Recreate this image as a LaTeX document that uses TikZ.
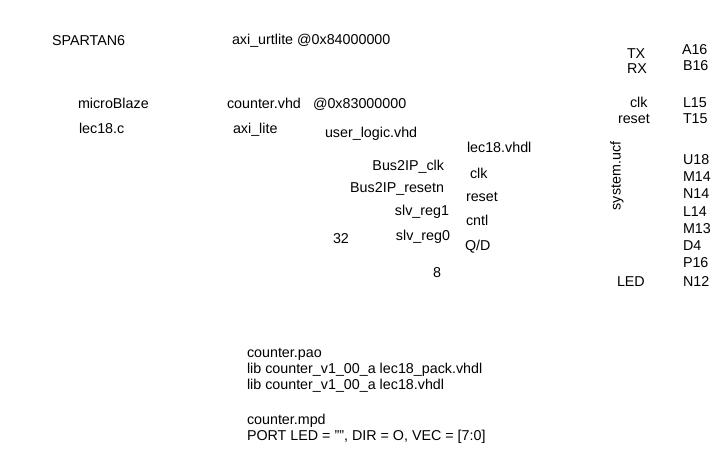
\documentclass[tikz,border=0pt]{standalone}
\usepackage{fontspec}
\setmainfont{Liberation Sans}
\begin{document}
\begin{tikzpicture}[x=1pt,y=-1pt,
  lbl/.style={anchor=base west,inner sep=0pt,outer sep=0pt,font=\fontsize{14.3}{16}\selectfont},
  rlbl/.style={anchor=base east,inner sep=0pt,outer sep=0pt,font=\fontsize{14.3}{16}\selectfont}]
\useasboundingbox (0,0) rectangle (725,471);
% top left
\node[lbl] (spartan) at (52,45) {SPARTAN6};
\node[lbl] (uart) at (232,44) {axi\_urtlite @0x84000000};
\node[lbl] (mb) at (78,108) {microBlaze};
\node[lbl] (cvhd) at (227,108) {counter.vhd};
\node[lbl] (addr) at (313,108) {@0x83000000};
\node[lbl] (lecc) at (79,133) {lec18.c};
\node[lbl] (axil) at (233,133) {axi\_lite};
\node[lbl] (ulog) at (325,137) {user\_logic.vhd};
\node[lbl] (lvhdl) at (467,152) {lec18.vhdl};
% user logic signals (right aligned)
\node[rlbl] (bclk) at (444,170) {Bus2IP\_clk};
\node[rlbl] (brst) at (444,192) {Bus2IP\_resetn};
\node[rlbl] (sr1) at (449,215) {slv\_reg1};
\node[rlbl] (sr0) at (450,240) {slv\_reg0};
\node[lbl] (n32) at (333,243) {32};
\node[lbl] (n8) at (433,277) {8};
% lec18 ports
\node[lbl] (pclk) at (470,178) {clk};
\node[lbl] (prst) at (466,201) {reset};
\node[lbl] (pcntl) at (466,225) {cntl};
\node[lbl] (pqd) at (465,250) {Q/D};
% right column
\node[lbl] (tx) at (627,58) {TX};
\node[lbl] (rx) at (627,73) {RX};
\node[lbl] (a16) at (682,54) {A16};
\node[lbl] (b16) at (683,70) {B16};
\node[lbl] (uclk) at (630,107) {clk};
\node[lbl] (urst) at (618,123) {reset};
\node[lbl] (l15) at (683,107) {L15};
\node[lbl] (t15) at (683,123) {T15};
\node[inner sep=0pt,rotate=90,font=\fontsize{14.3}{16}\selectfont] (ucf) at (617,176) {system.ucf};
\node[lbl] (u18) at (683,164) {U18};
\node[lbl] (m14) at (683,181) {M14};
\node[lbl] (n14) at (683,198) {N14};
\node[lbl] (l14) at (683,216) {L14};
\node[lbl] (m13) at (683,233) {M13};
\node[lbl] (d4) at (683,250) {D4};
\node[lbl] (p16) at (683,267) {P16};
\node[lbl] (n12) at (683,286) {N12};
\node[lbl] (led) at (617,286) {LED};
% bottom text
\node[lbl] (pao) at (247,357) {counter.pao};
\node[lbl] (lib1) at (247,373) {lib counter\_v1\_00\_a lec18\_pack.vhdl};
\node[lbl] (lib2) at (247,389) {lib counter\_v1\_00\_a lec18.vhdl};
\node[lbl] (mpd) at (247,424) {counter.mpd};
\node[lbl] (port) at (247,440) {PORT LED = "", DIR = O, VEC = [7:0]};
\end{tikzpicture}
\end{document}
